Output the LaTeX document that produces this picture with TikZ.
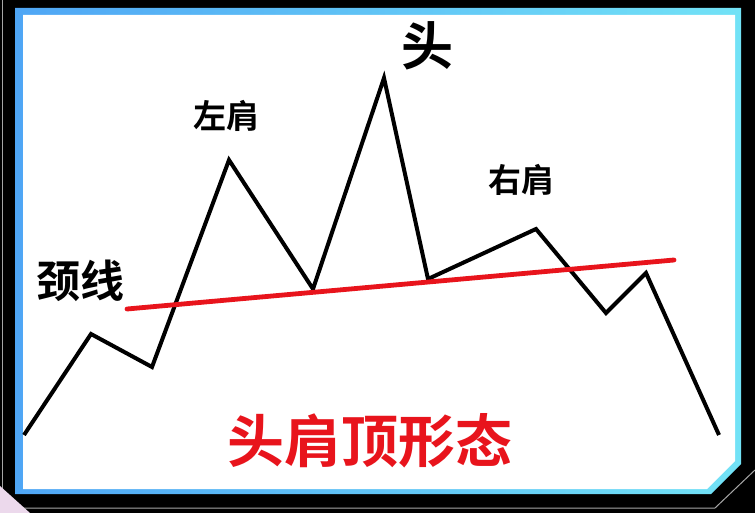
\documentclass[tikz,border=0pt]{standalone}
\usepackage{fontspec}
\newfontfamily\cjk{Noto Sans CJK SC}[BoldFont={Noto Sans CJK SC Bold}]
\begin{document}
\begin{tikzpicture}[x=1pt,y=-1pt,
  price/.style={line width=4pt,black,line join=miter},
  neck/.style={line width=4.8pt,color=neckred,line cap=round},
  lbl/.style={font=\cjk\fontsize{33}{33}\selectfont\bfseries,inner sep=0pt},
  big/.style={font=\cjk\fontsize{52}{52}\selectfont\bfseries,inner sep=0pt}]
\definecolor{neckred}{HTML}{E8141C}
\definecolor{frameL}{HTML}{4FA6F5}
\definecolor{frameR}{HTML}{72E2F6}
\useasboundingbox (0,0) rectangle (755,513);
% background
\fill[black] (0,0) rectangle (755,513);
\draw[gray!70,line width=1pt] (2,0) -- (2,513);
\draw[gray!70,line width=1pt] (0,508) -- (715,508) -- (755,470);
\fill[violet!15] (0,486) -- (30,513) -- (0,513) -- cycle;
% frame
\shade[left color=frameL,right color=frameR] (15,8) -- (741,8) -- (741,464) -- (711,494) -- (15,494) -- cycle;
\fill[white] (23,15) -- (735,15) -- (735,461) -- (707,489) -- (23,489) -- cycle;
% price path
\coordinate (p0) at (24,435);
\coordinate (p1) at (91,334);
\coordinate (p2) at (152,367);
\coordinate (ls) at (229,160);
\coordinate (t1) at (313,289);
\coordinate (hd) at (384,78);
\coordinate (t2) at (428,279);
\coordinate (rs) at (536,229);
\coordinate (p8) at (606,313);
\coordinate (p9) at (646,273);
\coordinate (p10) at (719,435);
\draw[price] (p0) -- (p1) -- (p2) -- (ls) -- (t1) -- (hd) -- (t2) -- (rs) -- (p8) -- (p9) -- (p10);
% neckline
\coordinate (n0) at (127,309);
\coordinate (n1) at (674,260);
\draw[neck] (n0) -- (n1);
% labels
\node[lbl] (lls) at (226,116) {左肩};
\node[lbl] (lrs) at (521,180) {右肩};
\node[big] (lhd) at (427,46) {头};
\node[font=\cjk\fontsize{44}{44}\selectfont\bfseries,inner sep=0pt] (lnk) at (80,281) {颈线};
\node[big,font=\cjk\fontsize{57}{57}\selectfont\bfseries,text=neckred] (ttl) at (370,441) {头肩顶形态};
\end{tikzpicture}
\end{document}
